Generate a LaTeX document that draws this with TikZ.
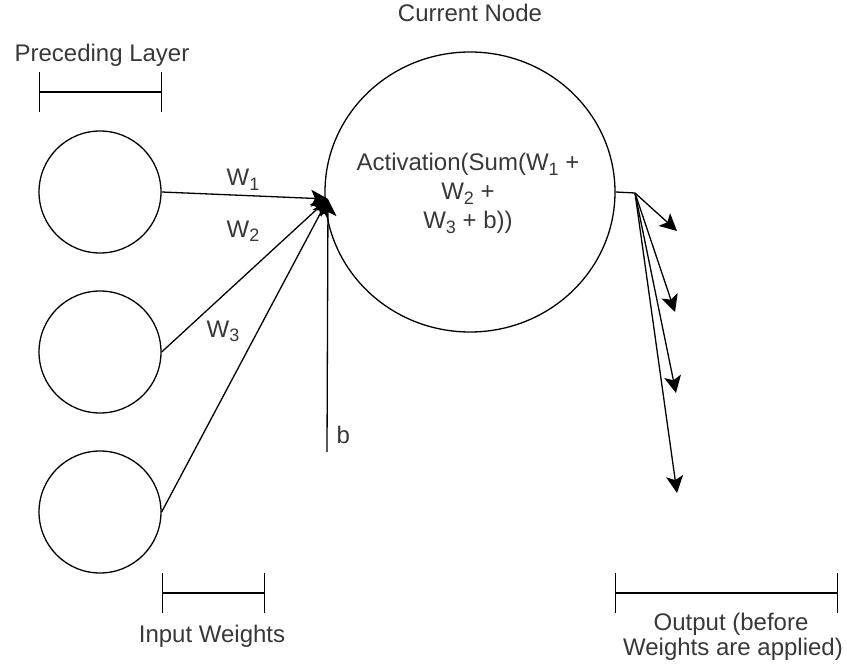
\documentclass[tikz,border=0pt]{standalone}
\usepackage{fontspec}
\setmainfont{Liberation Sans}
\usetikzlibrary{arrows.meta,shapes.geometric}
\definecolor{txt}{HTML}{383838}
\newcommand\sbs[1]{\raisebox{-5pt}{\fontsize{18}{18}\selectfont #1}}
\tikzset{arr/.style={-{Stealth[length=17pt,width=17pt,inset=4pt]},line width=1.3pt}}
\begin{document}
\begin{tikzpicture}[x=1pt,y=-1pt,
  every path/.style={line width=1.3pt},
  neuron/.style={draw,circle,minimum size=122pt,inner sep=0pt,line width=1.3pt},
  bignode/.style={draw,ellipse,minimum width=290pt,minimum height=280pt,inner sep=0pt,line width=1.3pt},
  lbl/.style={text=txt,font=\fontsize{24}{29}\selectfont,inner sep=0pt},
  brk/.style={{Bar[width=40pt]}-{Bar[width=40pt]},line width=1.3pt}]
\useasboundingbox (0,0) rectangle (847,666);

% preceding layer
\node[neuron] (n1) at (100,192) {};
\node[neuron] (n2) at (100,352) {};
\node[neuron] (n3) at (100,512) {};

% current node
\node[bignode] (cur) at (470,192) {};
\node[lbl,anchor=base] (curlbl) at (470,22) {Current Node};
\node[lbl,align=center] (act) at (468,193) {Activation(Sum(W\sbs{1} +\\W\sbs{2} +\\W\sbs{3} + b))};

% inputs
\coordinate (tip) at (328,199);
\coordinate (bstart) at (327,452);
\draw[arr] (n1.east) -- (tip);
\draw[arr] (n2.east) -- (tip);
\draw[arr] (n3.east) -- (tip);
\draw[arr] (bstart) -- (tip);
\node[lbl,anchor=base west] (w1) at (226,186) {W\sbs{1}};
\node[lbl,anchor=base west] (w2) at (226,237) {W\sbs{2}};
\node[lbl,anchor=base west] (w3) at (206,337) {W\sbs{3}};
\node[lbl,anchor=base west] (blbl) at (336,443) {b};

% outputs
\coordinate (o) at (635,193);
\coordinate (e1) at (677,231);
\coordinate (e2) at (675,312);
\coordinate (e3) at (676,393);
\coordinate (e4) at (677,493);
\draw (cur.east) -- (o);
\draw[arr] (o) -- (e1);
\draw[arr] (o) -- (e2);
\draw[arr] (o) -- (e3);
\draw[arr] (o) -- (e4);

% brackets
\coordinate (pl1) at (39,92);
\coordinate (pl2) at (162,92);
\draw[brk] (pl1) -- (pl2);
\node[lbl,anchor=base] (pllbl) at (102,62) {Preceding Layer};

\coordinate (iw1) at (162,593);
\coordinate (iw2) at (265,593);
\draw[brk] (iw1) -- (iw2);
\node[lbl,anchor=base] (iwlbl) at (212,642) {Input Weights};

\coordinate (ow1) at (615,593);
\coordinate (ow2) at (838,593);
\draw[brk] (ow1) -- (ow2);
\node[lbl,anchor=base] (owlbl1) at (731,630) {Output (before};
\node[lbl,anchor=base] (owlbl2) at (733,655) {Weights are applied)};
\end{tikzpicture}
\end{document}
